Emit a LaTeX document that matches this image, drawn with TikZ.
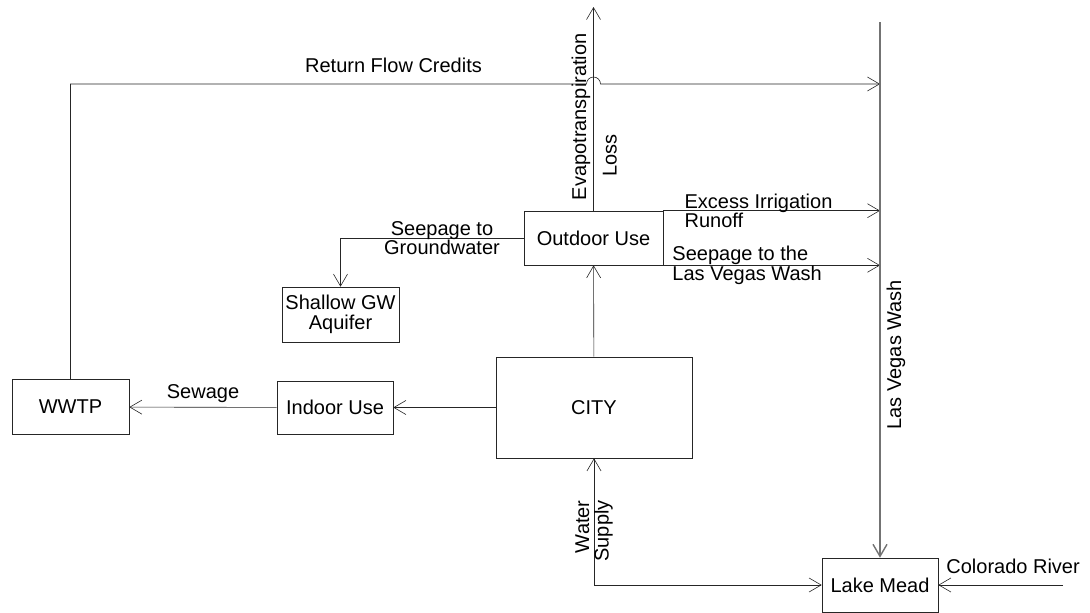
\documentclass[tikz,border=0pt]{standalone}
\usepackage{fontspec}
\setmainfont{Liberation Sans}
\usepackage{tikz}
\usetikzlibrary{arrows.meta}

\begin{document}
\begin{tikzpicture}[x=1pt,y=-1pt,->,>={Straight Barb[length=12pt,width=14pt]},
                    semithick,draw=black!85,font=\fontsize{20}{19.5}\selectfont]
  \tikzstyle{box}=[draw,inner sep=0pt,align=center]
  \tikzstyle{lbl}=[inner sep=0pt,align=center]
  \tikzstyle{wash}=[draw=black!55,line width=1.4pt]

  \useasboundingbox (0,0) rectangle (1090,613);

  \node[box,minimum width=117pt,minimum height=55pt] (WWTP) at (70.5,407)   {WWTP};
  \node[box,minimum width=116pt,minimum height=53pt] (IND)  at (335,407.5)  {Indoor Use};
  \node[box,minimum width=196pt,minimum height=101pt](CITY) at (594,407.5)  {CITY};
  \node[box,minimum width=139pt,minimum height=54pt] (OUT)  at (593.5,238) {Outdoor Use};
  \node[box,minimum width=117pt,minimum height=55pt] (GW)   at (340.5,314.5){Shallow GW\\Aquifer};
  \node[box,minimum width=116pt,minimum height=54pt] (LM)   at (880,585)    {Lake Mead};

  \coordinate (LVW) at (880,22);
  \coordinate (ET)  at (593.5,7);
  \coordinate (CR)  at (1063,585);
  \coordinate (RF)  at (70.5,84);
  \coordinate (H)   at (586.5,84);

  \path (CITY) edge (IND)
        (IND)  edge node[lbl,above=4pt] {Sewage} (WWTP)
        (CITY) edge (OUT)
        (OUT)  edge node[lbl,pos=0.461,rotate=90,anchor=south,inner sep=3pt] {Evapotranspiration}
                    node[lbl,pos=0.272,rotate=90,anchor=north,inner ysep=9pt] {Loss} (ET)
        (OUT.north east) edge node[lbl,pos=0.097,anchor=west,align=left] {Excess Irrigation\\Runoff}
                    (OUT.north east -| LVW)
        (OUT.south east) edge node[lbl,pos=0.041,anchor=west,align=left] {Seepage to the\\Las Vegas Wash}
                    (OUT.south east -| LVW)
        (CR)   edge node[lbl,pos=0.4,above=11pt] {Colorado River} (LM);

  \draw (OUT) -- node[lbl,pos=0.446] {Seepage to\\Groundwater} (OUT -| GW) -- (GW);

  \draw (WWTP) -- (RF) -- node[lbl,pos=0.626,above=11pt] {Return Flow Credits} (H)
        arc[start angle=180,end angle=0,radius=7pt] -- (RF -| LVW);

  \draw[wash] (LVW) -- node[lbl,pos=0.621,rotate=90,anchor=north,inner ysep=6pt] {Las Vegas Wash} (LM);

  \draw[<->] (CITY) |- node[lbl,pos=0.165,rotate=90,anchor=east,align=right] {Water\\Supply} (LM);

\end{tikzpicture}
\end{document}
